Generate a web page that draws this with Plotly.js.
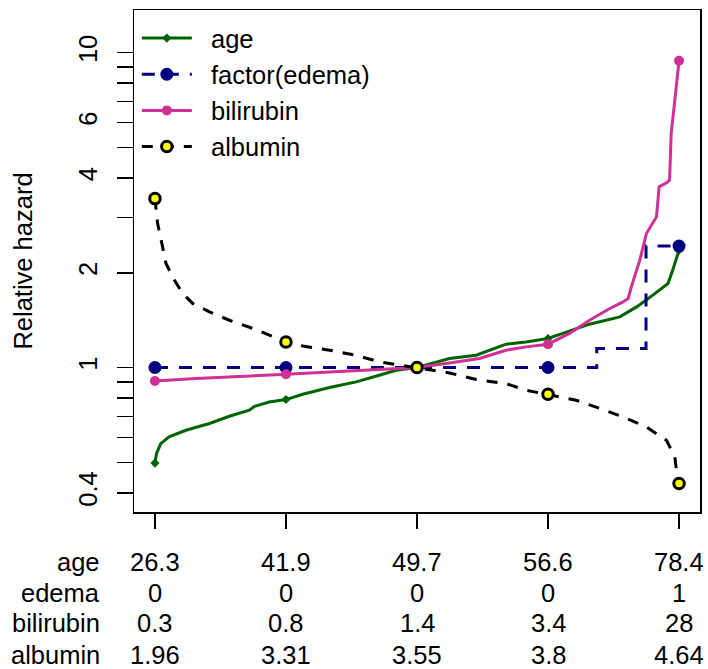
<!DOCTYPE html>
<html><head><meta charset="utf-8">
<script src="https://cdn.plot.ly/plotly-3.0.1.min.js"></script>
<style>html,body{margin:0;padding:0;background:#fff}#chart{width:708px;height:669px}</style>
</head><body><div id="chart"></div>
<script>
// quantile position (0..1) of each covariate and the relative hazard at that position
const ageX = [0, 0.003, 0.011, 0.027, 0.059, 0.104, 0.142, 0.180, 0.190, 0.218, 0.25, 0.282, 0.333, 0.384, 0.428, 0.460, 0.5, 0.562, 0.613, 0.670, 0.708, 0.75, 0.778, 0.829, 0.887, 0.919, 0.950, 0.979, 0.988, 1];
const ageY = [0.497, 0.533, 0.573, 0.602, 0.632, 0.664, 0.700, 0.732, 0.753, 0.777, 0.791, 0.822, 0.864, 0.900, 0.945, 0.980, 1.0, 1.068, 1.094, 1.186, 1.206, 1.236, 1.283, 1.373, 1.448, 1.558, 1.698, 1.849, 2.04, 2.36];

const edemaX = [0, 0.25, 0.5, 0.75, 0.843, 0.937, 1];
const edemaY = [1, 1, 1, 1, 1.149, 2.43, 2.43];

const bilirubinX = [0, 0.078, 0.25, 0.333, 0.428, 0.5, 0.562, 0.619, 0.670, 0.708, 0.75, 0.791, 0.829, 0.868, 0.893, 0.903, 0.909, 0.925, 0.938, 0.957, 0.962, 0.976, 0.982, 0.985, 0.992, 0.998, 1];
const bilirubinY = [0.906, 0.923, 0.952, 0.968, 0.985, 1.0, 1.034, 1.068, 1.135, 1.163, 1.186, 1.283, 1.413, 1.54, 1.616, 1.657, 1.804, 2.19, 2.67, 3.01, 3.75, 3.86, 3.94, 5.54, 7.07, 9.03, 9.43];

const albuminX = [0, 0.005, 0.0145, 0.021, 0.037, 0.053, 0.072, 0.104, 0.142, 0.193, 0.25, 0.282, 0.333, 0.384, 0.428, 0.5, 0.562, 0.613, 0.670, 0.708, 0.75, 0.804, 0.849, 0.893, 0.938, 0.976, 0.992, 0.995, 1];
const albuminY = [3.44, 2.87, 2.42, 2.14, 1.895, 1.718, 1.598, 1.502, 1.413, 1.32, 1.206, 1.171, 1.135, 1.094, 1.042, 1.0, 0.961, 0.916, 0.889, 0.847, 0.822, 0.787, 0.741, 0.697, 0.647, 0.587, 0.520, 0.472, 0.428];

const markerAt = [0, 0.25, 0.5, 0.75, 1];

const tableRows = ['age', 'edema', 'bilirubin', 'albumin'];
const ageVals = ['26.3', '41.9', '49.7', '56.6', '78.4'];
const edemaVals = ['0', '0', '0', '0', '1'];
const bilirubinVals = ['0.3', '0.8', '1.4', '3.4', '28'];
const albuminVals = ['1.96', '3.31', '3.55', '3.8', '4.64'];

const yTickVals = [0.4, 0.5, 0.6, 0.7, 0.8, 0.9, 1, 2, 3, 4, 5, 6, 7, 8, 9, 10];
const yTickText = ['0.4', '', '', '', '', '', '1', '2', '', '4', '', '6', '', '', '', '10'];

const FONT = 'Liberation Sans, Arial, Helvetica, sans-serif';
const FS = 25.5;
const PAD = '\u00a0\u00a0';

function markerPoints(xs, ys) {
  const mx = [], my = [];
  markerAt.forEach((m, i) => {
    const k = xs.indexOf(m);
    if (i > 0) { mx.push(null); my.push(null); }
    mx.push(xs[k]); my.push(ys[k]);
  });
  return {x: mx, y: my};
}

const series = [
  {name: 'age', x: ageX, y: ageY, color: '#006400', dash: 'solid', shape: 'linear',
   marker: {symbol: 'diamond', size: 7, color: '#006400'}},
  {name: 'factor(edema)', x: edemaX, y: edemaY, color: '#000080', dash: '13px,11px', shape: 'hv',
   marker: {symbol: 'circle', size: 13, color: '#000080'}},
  {name: 'bilirubin', x: bilirubinX, y: bilirubinY, color: '#D02F96', dash: 'solid', shape: 'linear',
   marker: {symbol: 'circle', size: 10, color: '#D02F96'}},
  {name: 'albumin', x: albuminX, y: albuminY, color: '#000000', dash: '11px,10px', shape: 'linear',
   marker: {symbol: 'circle', size: 10.5, color: '#FFFF00', line: {color: '#000000', width: 3}}}
];

const traces = [];
series.forEach(s => {
  traces.push({
    x: s.x, y: s.y, type: 'scatter', mode: 'lines', showlegend: false, legendgroup: s.name,
    hoverinfo: 'skip',
    line: {color: s.color, width: 3, dash: s.dash, shape: s.shape}
  });
  const mp = markerPoints(s.x, s.y);
  traces.push({
    x: mp.x, y: mp.y, type: 'scatter', mode: 'lines+markers', name: PAD + s.name, legendgroup: s.name,
    connectgaps: false,
    line: {color: s.color, width: 3, dash: s.dash},
    marker: s.marker
  });
});

const rowY = [-0.099, -0.161, -0.221, -0.285];
const rowVals = [ageVals, edemaVals, bilirubinVals, albuminVals];
const annotations = [];
tableRows.forEach((r, i) => {
  annotations.push({xref: 'paper', yref: 'paper', x: -0.057, y: rowY[i], xanchor: 'right', yanchor: 'middle',
    text: r, showarrow: false, font: {family: FONT, size: FS, color: '#000'}});
  rowVals[i].forEach((v, j) => {
    annotations.push({xref: 'x', yref: 'paper', x: markerAt[j], y: rowY[i], xanchor: 'center', yanchor: 'middle',
      text: v, showarrow: false, font: {family: FONT, size: FS, color: '#000'}});
  });
});

const layout = {
  width: 708, height: 669,
  margin: {l: 134, r: 8, t: 10, b: 157},
  paper_bgcolor: '#fff', plot_bgcolor: '#fff',
  font: {family: FONT, size: FS, color: '#000'},
  showlegend: true,
  legend: {x: 0.005, y: 0.99, xanchor: 'left', yanchor: 'top', bgcolor: 'rgba(0,0,0,0)', tracegroupgap: 0,
    font: {family: FONT, size: FS, color: '#000'}, itemwidth: 50},
  xaxis: {range: [-0.04, 1.04], tickvals: markerAt, showticklabels: false, ticks: 'outside', ticklen: 15,
    tickwidth: 1.5, tickcolor: '#000', showline: true, mirror: true, linecolor: '#000', linewidth: 1.5,
    showgrid: false, zeroline: false, fixedrange: true},
  yaxis: {type: 'log', range: [-0.459, 1.1357], tickvals: yTickVals, ticktext: yTickText, tickangle: -90,
    ticks: 'outside', ticklen: 16, tickwidth: 1.5, tickcolor: '#000', showline: true, mirror: true,
    linecolor: '#000', linewidth: 1.5, showgrid: false, zeroline: false, ticklabelstandoff: 9,
    tickfont: {family: FONT, size: FS, color: '#000'},
    title: {text: 'Relative hazard', font: {family: FONT, size: FS, color: '#000'}, standoff: 34}},
  annotations: annotations
};

Plotly.newPlot('chart', traces, layout, {staticPlot: true, displayModeBar: false});
</script></body></html>
